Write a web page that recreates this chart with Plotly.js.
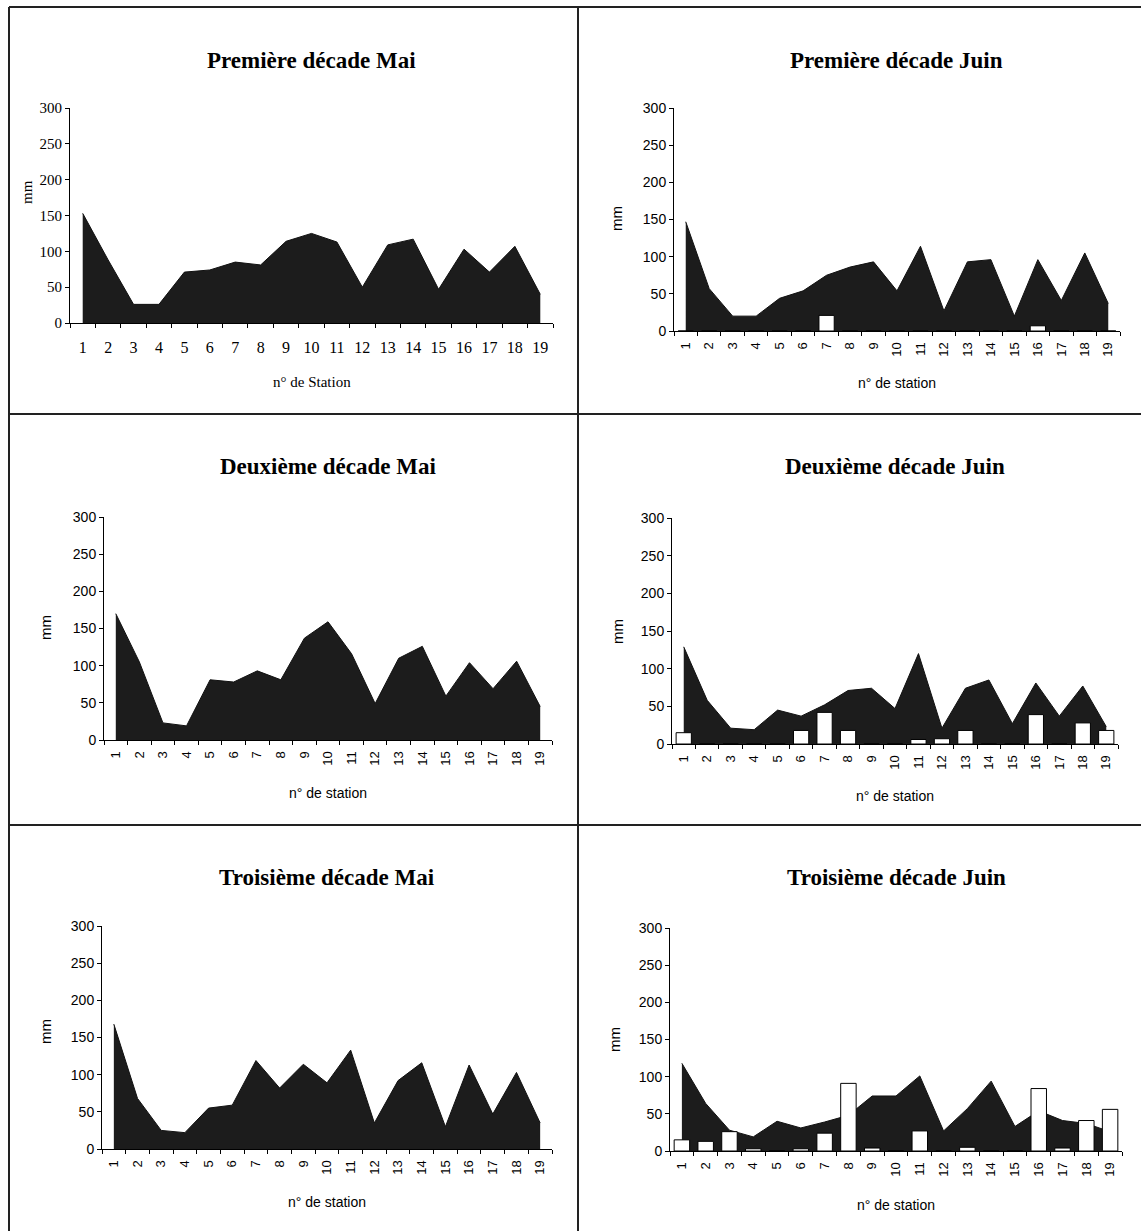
<!DOCTYPE html>
<html><head><meta charset="utf-8">
<script src="https://cdn.plot.ly/plotly-3.0.1.min.js"></script>
<style>html,body{margin:0;padding:0;background:#fff}#chart{width:1141px;height:1231px}</style>
</head><body><div id="chart"></div>
<script>
// ---- DATA ----
const stations = ['1','2','3','4','5','6','7','8','9','10','11','12','13','14','15','16','17','18','19'];
const mai1  = [153, 88, 26, 26, 71, 74, 85, 81, 114, 125, 113, 50, 109, 117, 47, 103, 71, 107, 40];
const juin1 = [147, 57, 20, 20, 44, 54, 75, 86, 93, 54, 114, 27, 93, 96, 20, 96, 41, 105, 37];
const juin1Bars = [0, 0, 0, 0, 0, 0, 21, 0, 0, 0, 0, 0, 0, 0, 0, 7, 0, 0, 0];
const mai2  = [170, 105, 23, 19, 81, 78, 93, 81, 137, 159, 116, 49, 110, 126, 59, 104, 69, 106, 45];
const juin2 = [129, 58, 21, 19, 45, 37, 52, 71, 74, 47, 120, 21, 74, 85, 27, 81, 37, 77, 23];
const juin2Bars = [15, 0, 0, 0, 0, 18, 42, 18, 0, 0, 6, 7, 18, 0, 0, 39, 0, 28, 18];
const mai3  = [168, 68, 25, 22, 55, 59, 119, 82, 114, 89, 133, 35, 92, 116, 30, 113, 47, 103, 35];
const juin3 = [118, 64, 28, 19, 40, 31, 39, 48, 74, 74, 101, 27, 57, 94, 33, 54, 41, 37, 26];
const juin3Bars = [15, 13, 26, 3, 0, 3, 24, 91, 4, 0, 27, 0, 5, 0, 0, 84, 4, 41, 56];
const yTicks = [0, 50, 100, 150, 200, 250, 300];
const titles = ['Première décade Mai', 'Première décade Juin', 'Deuxième décade Mai',
                'Deuxième décade Juin', 'Troisième décade Mai', 'Troisième décade Juin'];
const xTitles = ['n° de Station', 'n° de station', 'n° de station', 'n° de station', 'n° de station', 'n° de station'];
const yTitle = 'mm';

// ---- LAYOUT GEOMETRY (pixels) ----
const W = 1141, H = 1231;
const px = v => v / W;
const py = v => 1 - v / H;
const SERIF = 'Liberation Serif, Times New Roman, serif';
const SANS = 'Liberation Sans, Arial, sans-serif';

const panels = [
  {area: mai1,  bars: null,      x0: 70,  x1: 553,  yb: 323,  yt: 108, titleY: 60,  xtY: 382,  mmX: 27,  mmY: 192,  angle: 0,   font: SERIF, standoff: 10},
  {area: juin1, bars: juin1Bars, x0: 674, x1: 1120, yb: 331,  yt: 108, titleY: 60,  xtY: 383,  mmX: 617, mmY: 219,  angle: -90, font: SANS,  standoff: 5},
  {area: mai2,  bars: null,      x0: 104, x1: 552,  yb: 740,  yt: 517, titleY: 466, xtY: 793,  mmX: 45,  mmY: 628,  angle: -90, font: SANS,  standoff: 5},
  {area: juin2, bars: juin2Bars, x0: 672, x1: 1118, yb: 744,  yt: 518, titleY: 466, xtY: 796,  mmX: 617, mmY: 632,  angle: -90, font: SANS,  standoff: 5},
  {area: mai3,  bars: null,      x0: 102, x1: 552,  yb: 1149, yt: 926, titleY: 877, xtY: 1202, mmX: 45,  mmY: 1032, angle: -90, font: SANS,  standoff: 5},
  {area: juin3, bars: juin3Bars, x0: 670, x1: 1122, yb: 1151, yt: 928, titleY: 877, xtY: 1205, mmX: 614, mmY: 1040, angle: -90, font: SANS,  standoff: 5}
];

const data = [];
const layout = {
  width: W, height: H,
  margin: {l: 0, r: 0, t: 0, b: 0},
  paper_bgcolor: '#ffffff', plot_bgcolor: 'rgba(0,0,0,0)',
  showlegend: false,
  annotations: [],
  shapes: []
};

let overlayIdx = 7;
panels.forEach((p, i) => {
  const n = i + 1;
  const xa = 'x' + n, ya = 'y' + n;
  layout['xaxis' + n] = {
    type: 'category', categoryorder: 'array', categoryarray: stations,
    domain: [px(p.x0), px(p.x1)], anchor: ya, range: [-0.5, 18.5],
    showline: true, linecolor: '#000', linewidth: 1,
    ticks: 'outside', tickson: 'boundaries', ticklen: 4, tickcolor: '#000', tickwidth: 1,
    tickangle: p.angle, ticklabelstandoff: p.standoff,
    tickfont: {family: p.font, size: i === 0 ? 16 : 13, color: '#000'},
    showgrid: false, zeroline: false, fixedrange: true
  };
  layout['yaxis' + n] = {
    domain: [py(p.yb), py(p.yt)], anchor: xa, range: [0, 300],
    tickmode: 'array', tickvals: yTicks, ticktext: yTicks.map(String),
    showline: true, linecolor: '#000', linewidth: 1,
    ticks: 'outside', ticklen: 4, tickcolor: '#000', tickwidth: 1,
    tickfont: {family: p.font, size: i === 0 ? 15 : 14, color: '#000'},
    showgrid: false, zeroline: false, fixedrange: true
  };
  data.push({
    type: 'scatter', mode: 'lines', x: stations, y: p.area,
    xaxis: xa, yaxis: ya, fill: 'tozeroy', fillcolor: '#1c1c1c',
    line: {color: '#111', width: 1}, hoverinfo: 'skip'
  });
  if (p.bars) {
    const k = overlayIdx++;
    layout['xaxis' + k] = {
      type: 'category', categoryorder: 'array', categoryarray: stations,
      overlaying: xa, anchor: 'y' + k, range: [-0.5, 18.5], visible: false, fixedrange: true
    };
    layout['yaxis' + k] = {
      overlaying: ya, anchor: 'x' + k, range: [0, 300], visible: false, fixedrange: true
    };
    data.push({
      type: 'bar', x: stations, y: p.bars, xaxis: 'x' + k, yaxis: 'y' + k,
      width: 0.65, marker: {color: '#ffffff', line: {color: '#000', width: 1}}, hoverinfo: 'skip'
    });
  }
  const cx = (p.x0 + p.x1) / 2;
  layout.annotations.push({
    xref: 'paper', yref: 'paper', x: px(cx), y: py(p.titleY), xanchor: 'center', yanchor: 'middle',
    text: '<b>' + titles[i] + '</b>', showarrow: false,
    font: {family: SERIF, size: 23, color: '#000'}
  });
  layout.annotations.push({
    xref: 'paper', yref: 'paper', x: px(cx), y: py(p.xtY), xanchor: 'center', yanchor: 'middle',
    text: xTitles[i], showarrow: false,
    font: {family: p.font, size: i === 0 ? 15 : 14, color: '#000'}
  });
  layout.annotations.push({
    xref: 'paper', yref: 'paper', x: px(p.mmX), y: py(p.mmY), xanchor: 'center', yanchor: 'middle',
    text: yTitle, showarrow: false, textangle: -90,
    font: {family: p.font, size: 15, color: '#000'}
  });
});

// panel frame lines
const frame = [
  [9, 7, 1141, 7], [9, 7, 9, 1231], [578, 7, 578, 1231],
  [9, 414, 1141, 414], [9, 825, 1141, 825]
];
frame.forEach(f => layout.shapes.push({
  type: 'line', xref: 'paper', yref: 'paper',
  x0: px(f[0]), y0: py(f[1]), x1: px(f[2]), y1: py(f[3]),
  line: {color: '#222', width: 2}
}));

Plotly.newPlot('chart', data, layout, {staticPlot: true, displayModeBar: false});
</script>
</body></html>
